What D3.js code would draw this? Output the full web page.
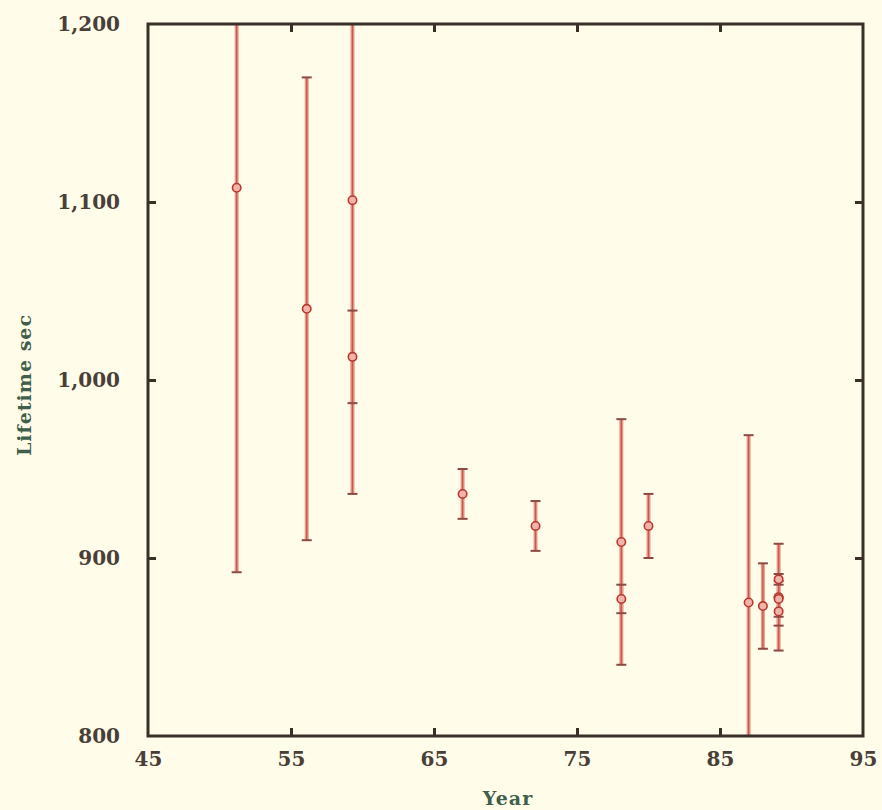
<!DOCTYPE html>
<html>
<head>
<meta charset="utf-8">
<script src="https://cdn.jsdelivr.net/npm/d3@7"></script>
<style>
  html, body { margin: 0; padding: 0; background: #fffde9; }
  svg { display: block; }
</style>
</head>
<body>
<svg id="chart" width="882" height="810"></svg>
<script>
// ---- data ----
const years  = [51.2, 56.1, 59.3, 59.3, 67.0, 72.1, 78.1, 78.1, 80.0, 87.0, 88.0, 89.1, 89.1, 89.1, 89.1];
const values = [1108, 1040, 1101, 1013, 936, 918, 909, 877, 918, 875, 873, 888, 878, 877, 870];
const errors = [216, 130, 165, 26, 14, 14, 69, 8, 18, 94, 24, 3, 30, 10, 8];
const xTicks = [45, 55, 65, 75, 85, 95];
const yTicks = [800, 900, 1000, 1100, 1200];
const xTitle = "Year";
const yTitle = "Lifetime sec";

// ---- layout ----
const svg = d3.select("#chart");
const L = 148, R = 863, T = 24, B = 736;
const x = d3.scaleLinear().domain([45, 95]).range([L, R]);
const y = d3.scaleLinear().domain([800, 1200]).range([B, T]);

const axisColor = "#3b3028";
const labelColor = "#4a3e38";
const titleColor = "#3f5f4c";
const font = "'DejaVu Serif', serif";

svg.append("rect").attr("width", 882).attr("height", 810).attr("fill", "#fffde9");

svg.append("defs").append("clipPath").attr("id", "clip")
  .append("rect").attr("x", L).attr("y", T).attr("width", R - L).attr("height", B - T);

// error bars
const data = years.map((yr, i) => ({ yr, v: values[i], e: errors[i] }));
const g = svg.append("g").attr("clip-path", "url(#clip)");

g.selectAll("line.bar").data(data).join("line")
  .attr("x1", d => x(d.yr)).attr("x2", d => x(d.yr))
  .attr("y1", d => y(d.v + d.e)).attr("y2", d => y(d.v - d.e))
  .attr("stroke", "#e8998c").attr("stroke-width", 4);
g.selectAll("line.core").data(data).join("line")
  .attr("x1", d => x(d.yr)).attr("x2", d => x(d.yr))
  .attr("y1", d => y(d.v + d.e)).attr("y2", d => y(d.v - d.e))
  .attr("stroke", "#c9584a").attr("stroke-width", 1.3);

// caps
["top", "bot"].forEach(side => {
  g.selectAll("line.cap-" + side).data(data).join("line")
    .attr("x1", d => x(d.yr) - 5).attr("x2", d => x(d.yr) + 5)
    .attr("y1", d => y(side === "top" ? d.v + d.e : d.v - d.e))
    .attr("y2", d => y(side === "top" ? d.v + d.e : d.v - d.e))
    .attr("stroke", "#8e4a42").attr("stroke-width", 2);
});

// markers
g.selectAll("circle").data(data).join("circle")
  .attr("cx", d => x(d.yr)).attr("cy", d => y(d.v)).attr("r", 4.2)
  .attr("fill", "#f2b4a8").attr("stroke", "#b8382e").attr("stroke-width", 1.6);

// axes with inward ticks
const tickLen = 8;
const axStyle = sel => {
  sel.select(".domain").remove();
  sel.selectAll(".tick line").attr("stroke", axisColor).attr("stroke-width", 3);
};
const inner = v => v !== 45 && v !== 95;
const innerY = v => v !== 800 && v !== 1200;

svg.append("g").attr("transform", `translate(0,${B})`)
  .call(d3.axisBottom(x).tickValues(xTicks).tickSize(-tickLen).tickPadding(16).tickFormat(d => d))
  .call(axStyle)
  .call(s => s.selectAll(".tick").filter(d => !inner(d)).select("line").remove())
  .call(s => s.selectAll(".tick text").attr("fill", labelColor)
    .attr("font-family", font).attr("font-weight", "bold").attr("font-size", 20));

svg.append("g").attr("transform", `translate(0,${T})`)
  .call(d3.axisTop(x).tickValues(xTicks.filter(inner)).tickSize(-tickLen).tickFormat(""))
  .call(axStyle);

svg.append("g").attr("transform", `translate(${L},0)`)
  .call(d3.axisLeft(y).tickValues(yTicks).tickSize(-tickLen).tickPadding(28).tickFormat(d3.format(",")))
  .call(axStyle)
  .call(s => s.selectAll(".tick").filter(d => !innerY(d)).select("line").remove())
  .call(s => s.selectAll(".tick text").attr("fill", labelColor)
    .attr("font-family", font).attr("font-weight", "bold").attr("font-size", 20));

svg.append("g").attr("transform", `translate(${R},0)`)
  .call(d3.axisRight(y).tickValues(yTicks.filter(innerY)).tickSize(-tickLen).tickFormat(""))
  .call(axStyle);

// frame
svg.append("rect").attr("x", L).attr("y", T).attr("width", R - L).attr("height", B - T)
  .attr("fill", "none").attr("stroke", axisColor).attr("stroke-width", 3);

// titles
svg.append("text").attr("x", 508).attr("y", 805).attr("text-anchor", "middle")
  .attr("fill", titleColor).attr("font-family", font).attr("font-weight", "bold")
  .attr("font-size", 19).attr("letter-spacing", 1).text(xTitle);
svg.append("text").attr("transform", "translate(31,385) rotate(-90)").attr("text-anchor", "middle")
  .attr("fill", titleColor).attr("font-family", font).attr("font-weight", "bold")
  .attr("font-size", 19).attr("letter-spacing", 1).text(yTitle);
</script>
</body>
</html>
